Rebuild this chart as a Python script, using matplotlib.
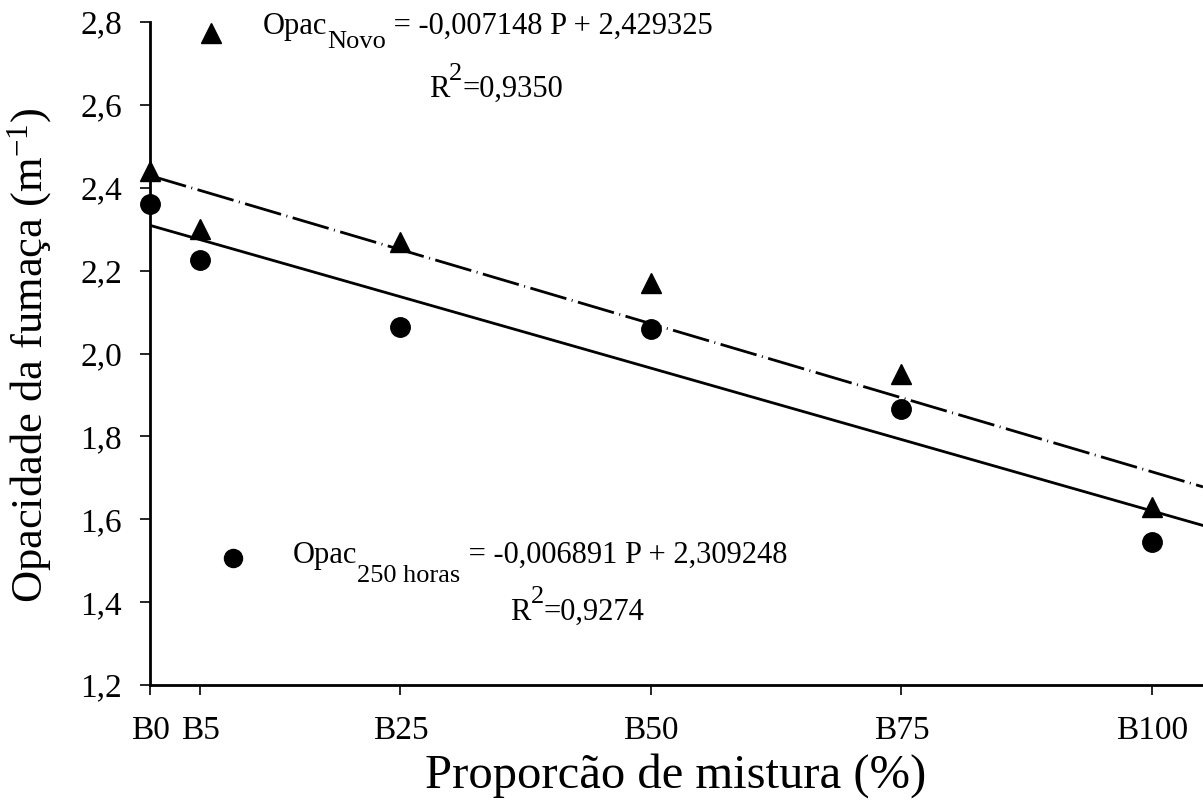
import matplotlib
matplotlib.use("Agg")
import matplotlib.pyplot as plt
import numpy as np

plt.rcParams['font.family'] = ['Liberation Serif', 'DejaVu Serif']
plt.rcParams['mathtext.fontset'] = 'custom'
plt.rcParams['mathtext.rm'] = 'Liberation Serif'
plt.rcParams['mathtext.it'] = 'Liberation Serif:italic'
plt.rcParams['lines.scale_dashes'] = False

# Data
mix_pct = [0, 5, 25, 50, 75, 100]
x_labels = ["B0", "B5", "B25", "B50", "B75", "B100"]
opac_novo = [2.44, 2.30, 2.27, 2.17, 1.95, 1.63]
opac_250h = [2.36, 2.225, 2.065, 2.06, 1.867, 1.546]
fit_novo = (-0.007148, 2.429325)
fit_250h = (-0.006891, 2.309248)
y_ticks = [1.2, 1.4, 1.6, 1.8, 2.0, 2.2, 2.4, 2.6, 2.8]
y_tick_labels = ["1,2", "1,4", "1,6", "1,8", "2,0", "2,2", "2,4", "2,6", "2,8"]

W, H = 1203, 800
fig = plt.figure(figsize=(W / 100, H / 100), dpi=100)
ax = fig.add_axes([150 / W, 1 - 685 / H, (W - 150) / W, (685 - 22) / H])

xmax = 105.1
xx = np.array([0, xmax])
ax.plot(xx, fit_novo[0] * xx + fit_novo[1], color='black', lw=2,
        dashes=[27, 4, 0.7, 4], zorder=2)
ax.plot(xx, fit_250h[0] * xx + fit_250h[1], color='black', lw=2, zorder=2)

ax.plot(mix_pct, opac_novo, linestyle='none', marker='^', ms=15,
        color='black', zorder=3, clip_on=False)
ax.plot(mix_pct, opac_250h, linestyle='none', marker='o', ms=14,
        color='black', zorder=3, clip_on=False)

ax.set_xlim(0, xmax)
ax.set_ylim(1.2, 2.8)
ax.set_xticks(mix_pct)
ax.set_xticklabels(x_labels)
ax.set_yticks(y_ticks)
ax.set_yticklabels(y_tick_labels)
ax.tick_params(direction='out', length=7, width=1.2, labelsize=24, pad=13)
ax.tick_params(axis='x', pad=15)
for s in ['top', 'right']:
    ax.spines[s].set_visible(False)
for s in ['left', 'bottom']:
    ax.spines[s].set_linewidth(2)

# Axis titles placed in figure pixels
fig.text(676 / W, 1 - 788 / H, "Proporcão de mistura (%)", fontsize=35,
         ha='center', va='baseline')
fig.text(30 / W, 1 - 355 / H, r"Opacidade da fumaça (m$^{\mathregular{-1}}$)",
         fontsize=32, rotation=90, ha='center', va='center')

# Legend-like annotations with markers
fig.lines.append(matplotlib.lines.Line2D([211 / W], [1 - 33 / H], marker='^', ms=14,
                                         color='black', linestyle='none',
                                         transform=fig.transFigure))
fig.lines.append(matplotlib.lines.Line2D([233 / W], [1 - 558 / H], marker='o', ms=13,
                                         color='black', linestyle='none',
                                         transform=fig.transFigure))

renderer = fig.canvas.get_renderer()


def rich(x_px, base_px, parts):
    cx = x_px
    for s, size, dy in parts:
        t = fig.text(cx / W, 1 - (base_px + dy) / H, s, fontsize=size,
                     ha='left', va='baseline')
        bb = t.get_window_extent(renderer)
        cx += bb.width


rich(263, 34, [("Opac", 22, 0), ("Novo", 19, 14), (" = -0,007148 P + 2,429325", 22, 0)])
rich(429, 97, [("R", 22, 0), ("2", 19, -17), ("=0,9350", 22, 0)])
rich(293, 563, [("Opac", 22, 0), ("250 horas", 19, 19), (" = -0,006891 P + 2,309248", 22, 0)])
rich(510, 620, [("R", 22, 0), ("2", 19, -17), ("=0,9274", 22, 0)])

fig.savefig("out.png", dpi=100)
